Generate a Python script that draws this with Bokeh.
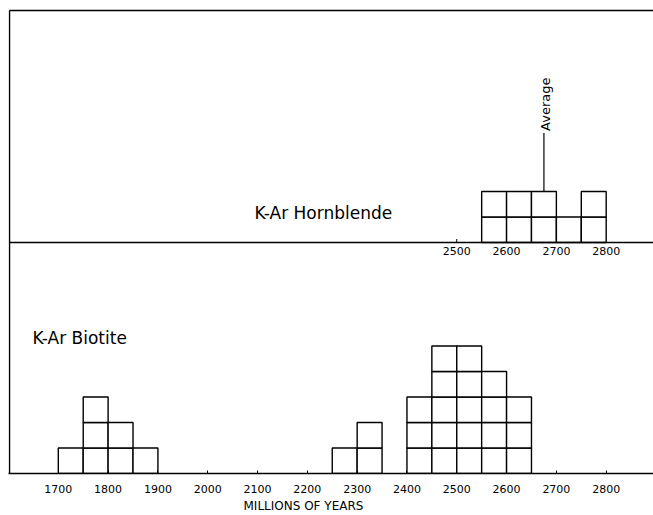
from bokeh.plotting import figure
from bokeh.models import Range1d, FixedTicker, Title
from bokeh.core.properties import value
from bokeh.embed import file_html
from bokeh.resources import INLINE
import math

# ---------------- data ----------------
BIN_WIDTH = 50

# K-Ar Hornblende (upper panel): bin start (Myr) and number of samples
hb_bin_start = [2550, 2600, 2650, 2700, 2750]
hb_counts = [2, 2, 2, 1, 2]
hb_average = 2675

# K-Ar Biotite (lower panel)
bt_bin_start = [1700, 1750, 1800, 1850, 2250, 2300, 2400, 2450, 2500, 2550, 2600]
bt_counts = [1, 3, 2, 1, 1, 2, 3, 5, 5, 4, 3]

bottom_ticks = [1700, 1800, 1900, 2000, 2100, 2200, 2300, 2400, 2500, 2600, 2700, 2800]
top_ticks = [2500, 2600, 2700, 2800]
top_tick_labels = ["2500", "2600", "2700", "2800"]
top_minor_tick = [2500]

x_title = "MILLIONS OF YEARS"
hb_title = "K-Ar Hornblende"
bt_title = "K-Ar Biotite"
avg_title = "Average"

# ---------------- layout constants ----------------
X_START, X_END = 1600, 2895
X_LEFT = 1602
Y_END = 18.24
TOP_LINE = 18.16
HB_BASE = 9.06
FONT = "DejaVu Sans"

p = figure(frame_width=645, frame_height=465, output_backend="svg", toolbar_location=None,
           x_range=Range1d(X_START, X_END), y_range=Range1d(0, Y_END),
           min_border_left=8, min_border_right=0, min_border_top=8, min_border_bottom=0)
p.outline_line_color = None
p.grid.visible = False
p.yaxis.visible = False
p.background_fill_color = "white"
p.border_fill_color = "white"


def unit_boxes(starts, counts, base):
    left, right, bottom, top = [], [], [], []
    for s, c in zip(starts, counts):
        for k in range(c):
            left.append(s)
            right.append(s + BIN_WIDTH)
            bottom.append(base + k)
            top.append(base + k + 1)
    return dict(left=left, right=right, bottom=bottom, top=top)


bt = unit_boxes(bt_bin_start, bt_counts, 0)
hb = unit_boxes(hb_bin_start, hb_counts, HB_BASE)
p.quad(**bt, fill_color="white", line_color="black", line_width=1.4)
p.quad(**hb, fill_color="white", line_color="black", line_width=1.4)

# frame lines: left, top, upper-panel baseline
p.segment(x0=[X_LEFT, X_LEFT, X_LEFT], y0=[0, TOP_LINE, HB_BASE],
          x1=[X_LEFT, X_END, X_END], y1=[TOP_LINE, TOP_LINE, HB_BASE],
          line_color="black", line_width=1.5)
# small tick in upper panel
p.segment(x0=top_minor_tick, y0=[HB_BASE] * len(top_minor_tick),
          x1=top_minor_tick, y1=[HB_BASE + 0.14] * len(top_minor_tick),
          line_color="black", line_width=1)

# average marker
avg_top = HB_BASE + max(hb_counts) + 2.3
p.segment(x0=[hb_average], y0=[HB_BASE + max(hb_counts)], x1=[hb_average], y1=[avg_top],
          line_color="black", line_width=1.2)
p.text(x=[hb_average], y=[avg_top], text=[avg_title], angle=math.pi / 2,
       x_offset=2, y_offset=-2,
       text_align="left", text_baseline="middle", text_font=value(FONT),
       text_font_size="13px", text_color="black")

# upper panel tick labels
p.text(x=top_ticks, y=[HB_BASE] * len(top_ticks), text=top_tick_labels,
       y_offset=4, text_align="center", text_baseline="top",
       text_font=value(FONT), text_font_size="11px", text_color="black")

# panel titles
p.text(x=[2232], y=[HB_BASE + 1.15], text=[hb_title], text_align="center",
       text_baseline="middle", text_font=value(FONT), text_font_size="17px", text_color="black")
p.text(x=[1648], y=[5.3], text=[bt_title], text_align="left",
       text_baseline="middle", text_font=value(FONT), text_font_size="17px", text_color="black")

# bottom axis
ax = p.xaxis[0]
ax.ticker = FixedTicker(ticks=bottom_ticks)
ax.major_tick_in = 3
ax.major_tick_out = 0
ax.minor_tick_line_color = None
ax.axis_line_color = "black"
ax.axis_line_width = 1.5
ax.major_tick_line_color = "black"
ax.major_label_text_font = FONT
ax.major_label_text_font_size = "11px"
ax.major_label_text_color = "black"
ax.major_label_standoff = 11

# axis title, placed under the data as in the original
p.add_layout(Title(text=x_title, align="left", offset=235, standoff=3,
                   text_font=FONT, text_font_size="12px", text_font_style="normal",
                   text_color="black"), "below")

open("out.html", "w").write(file_html(p, INLINE))
